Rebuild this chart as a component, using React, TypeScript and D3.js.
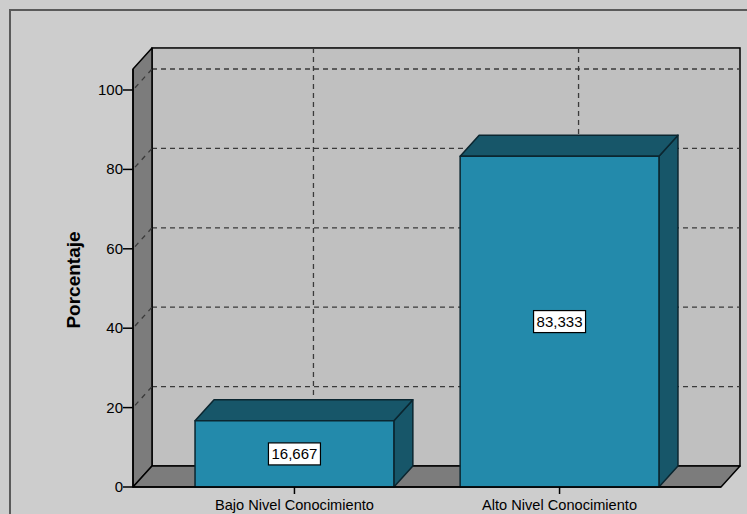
import React from "react";
import * as d3 from "d3";

const categories = ["Bajo Nivel Conocimiento", "Alto Nivel Conocimiento"];
const percentages = [16.667, 83.333];
const valueLabels = ["16,667", "83,333"];
const yTicks = [0, 20, 40, 60, 80, 100];

const W = 747;
const H = 514;
const DX = 19;   // depth offset of the 3D box
const DY = -21;
const FONT = "'Liberation Sans', Arial, sans-serif";

export default function App() {
  const y = d3.scaleLinear().domain([0, 100]).range([487, 90]);
  const x = d3.scalePoint<string>().domain(categories).range([133, 721]).padding(0.609);
  const barW = x.step() * 0.75;

  const left = 133;
  const right = 721;
  const yTop = y(105.3);
  const yBase = y(0);

  const dash = "5,4";
  const gridColor = "#3a3a3a";

  const pts = (arr: [number, number][]) => arr.map((p) => p.join(",")).join(" ");

  return (
    <svg
      width={W}
      height={H}
      style={{ position: "absolute", left: 0, top: 0, display: "block" }}
      fontFamily={FONT}
    >
      <rect x={0} y={0} width={W} height={H} fill="#cdcdcd" />
      <path d={`M10,${H} L10,10 L${W},10`} fill="none" stroke="#5a5a5a" strokeWidth={2} />

      {/* back wall */}
      <rect
        x={left + DX}
        y={yTop + DY}
        width={right - left}
        height={yBase - yTop}
        fill="#c0c0c0"
        stroke="#000"
        strokeWidth={1.5}
      />
      {yTicks.filter((t) => t > 0).map((t) => (
        <line
          key={"hg" + t}
          x1={left + DX}
          x2={right + DX}
          y1={y(t) + DY}
          y2={y(t) + DY}
          stroke={gridColor}
          strokeWidth={1.3}
          strokeDasharray={dash}
        />
      ))}
      {categories.map((c) => (
        <line
          key={"vg" + c}
          x1={(x(c) as number) + DX}
          x2={(x(c) as number) + DX}
          y1={yTop + DY}
          y2={yBase + DY}
          stroke={gridColor}
          strokeWidth={1.3}
          strokeDasharray={dash}
        />
      ))}

      {/* left wall */}
      <polygon
        points={pts([
          [left, yTop],
          [left + DX, yTop + DY],
          [left + DX, yBase + DY],
          [left, yBase],
        ])}
        fill="#7c7c7c"
        stroke="#000"
        strokeWidth={1.5}
        strokeLinejoin="round"
      />
      {yTicks.filter((t) => t > 0).map((t) => (
        <line
          key={"dg" + t}
          x1={left}
          y1={y(t)}
          x2={left + DX}
          y2={y(t) + DY}
          stroke={gridColor}
          strokeWidth={1.3}
          strokeDasharray="5,5"
          strokeDashoffset={-3}
        />
      ))}

      {/* floor */}
      <polygon
        points={pts([
          [left, yBase],
          [right, yBase],
          [right + DX, yBase + DY],
          [left + DX, yBase + DY],
        ])}
        fill="#7c7c7c"
        stroke="#000"
        strokeWidth={1.5}
        strokeLinejoin="round"
      />

      {/* bars */}
      {categories.map((c, i) => {
        const x0 = (x(c) as number) - barW / 2;
        const x1 = x0 + barW;
        const yv = y(percentages[i]);
        return (
          <g key={"bar" + c} stroke="#0b2630" strokeWidth={1.5} strokeLinejoin="round">
            <polygon
              points={pts([
                [x1, yv],
                [x1 + DX, yv + DY],
                [x1 + DX, yBase + DY],
                [x1, yBase],
              ])}
              fill="#175669"
            />
            <polygon
              points={pts([
                [x0, yv],
                [x0 + DX, yv + DY],
                [x1 + DX, yv + DY],
                [x1, yv],
              ])}
              fill="#175669"
            />
            <rect x={x0} y={yv} width={barW} height={yBase - yv} fill="#238aab" />
          </g>
        );
      })}

      {/* value labels */}
      {categories.map((c, i) => {
        const cx = x(c) as number;
        const cy = (y(percentages[i]) + yBase) / 2;
        return (
          <g key={"lbl" + c}>
            <rect x={cx - 26} y={cy - 11} width={52} height={22} fill="#fff" stroke="#000" strokeWidth={1.2} />
            <text x={cx} y={cy + 5} textAnchor="middle" fontSize={15} fill="#000">
              {valueLabels[i]}
            </text>
          </g>
        );
      })}

      {/* y axis */}
      <line x1={left} x2={left} y1={yTop} y2={yBase} stroke="#000" strokeWidth={1.5} />
      {yTicks.map((t) => (
        <g key={"yt" + t}>
          <line x1={left - 10} x2={left} y1={y(t)} y2={y(t)} stroke="#000" strokeWidth={1.5} />
          <text x={left - 10} y={y(t) + 5} textAnchor="end" fontSize={15} fill="#000">
            {t}
          </text>
        </g>
      ))}
      <text
        transform={`translate(80,${(yTop + yBase) / 2 + 2}) rotate(-90)`}
        textAnchor="middle"
        fontSize={19}
        fontWeight="bold"
        fill="#000"
      >
        Porcentaje
      </text>

      {/* x axis */}
      <line x1={left} x2={right} y1={yBase} y2={yBase} stroke="#000" strokeWidth={1.5} />
      {categories.map((c) => (
        <g key={"xt" + c}>
          <line x1={x(c) as number} x2={x(c) as number} y1={yBase} y2={yBase + 7} stroke="#000" strokeWidth={1.5} />
          <text x={x(c) as number} y={510} textAnchor="middle" fontSize={14.6} fill="#000">
            {c}
          </text>
        </g>
      ))}
    </svg>
  );
}
